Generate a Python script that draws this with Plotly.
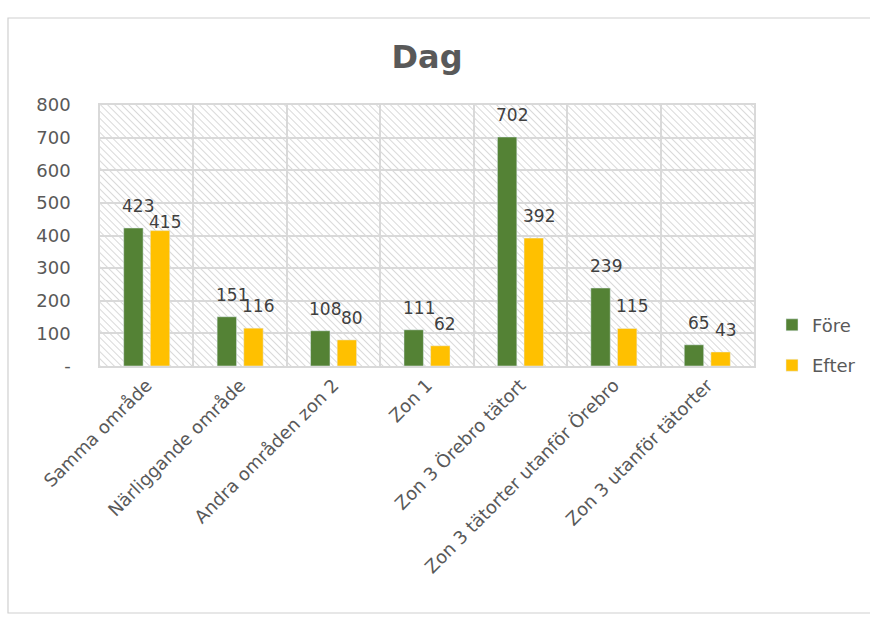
import base64
import plotly.graph_objects as go

# Trips per destination area, daytime, before and after the change
categories = [
    "Samma område",
    "Närliggande område",
    "Andra områden zon 2",
    "Zon 1",
    "Zon 3 Örebro tätort",
    "Zon 3 tätorter utanför Örebro",
    "Zon 3 utanför tätorter",
]
fore = [423, 151, 108, 111, 702, 239, 65]
efter = [415, 116, 80, 62, 392, 115, 43]

y_ticks = [0, 100, 200, 300, 400, 500, 600, 700, 800]
y_ticktext = ["-", "100", "200", "300", "400", "500", "600", "700", "800"]

GREEN = "#548235"
YELLOW = "#FFC000"
TEXT = "#595959"
LABEL = "#404040"
GRID = "#D9D9D9"
FONT = "Century Gothic, DejaVu Sans, sans-serif"

W, H = 870, 617
L, R, T, B = 100, 116, 105, 251
PW, PH = W - L - R, H - T - B
Y_MAX = 800

# diagonal hatch used as the plot-area background
svg = (
    f"<svg xmlns='http://www.w3.org/2000/svg' width='{PW}' height='{PH}'>"
    "<defs><pattern id='h' width='5' height='5' patternUnits='userSpaceOnUse' "
    "patternTransform='rotate(-45)'>"
    "<rect width='5' height='5' fill='#ffffff'/>"
    "<line x1='0' y1='0' x2='0' y2='5' stroke='#cdcdcd' stroke-width='1.5'/>"
    "</pattern></defs>"
    f"<rect width='{PW}' height='{PH}' fill='url(#h)'/></svg>"
)
hatch = "data:image/svg+xml;base64," + base64.b64encode(svg.encode()).decode()

fig = go.Figure()
fig.add_trace(go.Bar(name="Före", x=categories, y=fore, marker_color=GREEN,
                     legendgroup="a"))
fig.add_trace(go.Bar(name="Efter", x=categories, y=efter, marker_color=YELLOW,
                     legendgroup="b"))

# value labels above each bar; an "Efter" label that would sit on top of
# its "Före" neighbour is tucked closer to its own bar
bargap, bargroupgap = 0.43, 0.27
cat_px = PW / len(categories)
slot = cat_px * (1 - bargap) / 2
px_per_unit = PH / Y_MAX
annotations = []
for cat, f_val, e_val in zip(categories, fore, efter):
    close = abs(f_val - e_val) * px_per_unit < 6
    for val, shift, ys in ((f_val, -slot / 2, 22),
                           (e_val, slot / 2, 9 if close else 22)):
        annotations.append(dict(
            x=cat, y=val, xref="x", yref="y", text=str(val), showarrow=False,
            xshift=shift + 5, yshift=ys, yanchor="middle", xanchor="center",
            font=dict(family=FONT, size=17, color=LABEL),
        ))

fig.update_layout(
    width=W, height=H,
    margin=dict(l=L, r=R, t=T, b=B, autoexpand=False),
    paper_bgcolor="white",
    plot_bgcolor="rgba(0,0,0,0)",
    barmode="group", bargap=bargap, bargroupgap=bargroupgap,
    title=dict(text="<b>Dag</b>", x=0.5, xref="paper", xanchor="center",
               y=1 - 57 / H, yref="container", yanchor="middle",
               font=dict(family=FONT, size=32, color=TEXT)),
    font=dict(family=FONT, size=17, color=TEXT),
    legend=dict(x=(772 - L) / PW, y=0.08, xanchor="left", yanchor="middle",
                font=dict(family=FONT, size=18, color=TEXT),
                tracegroupgap=14, itemwidth=30, bgcolor="rgba(0,0,0,0)"),
    annotations=annotations,
    images=[dict(source=hatch, xref="paper", yref="paper", x=0, y=1,
                 sizex=1, sizey=1, sizing="stretch", xanchor="left",
                 yanchor="top", layer="below")],
    shapes=[dict(type="rect", xref="paper", yref="paper",
                 x0=(8 - L) / PW, x1=(W + 5 - L) / PW,
                 y0=-(613 - (T + PH)) / PH, y1=(T + PH - 18) / PH,
                 line=dict(color="#D0D0D0", width=1.2), layer="below")],
    showlegend=True,
)

fig.update_xaxes(
    tickangle=-45, tickson="boundaries", showgrid=True, gridcolor=GRID,
    gridwidth=1.5, showline=True, linecolor=GRID, linewidth=1.5, mirror=True,
    ticks="outside", ticklen=5, tickcolor="rgba(0,0,0,0)",
    tickfont=dict(family=FONT, size=18, color=TEXT),
)
fig.update_yaxes(
    range=[0, Y_MAX], tickvals=y_ticks, ticktext=y_ticktext,
    showgrid=True, gridcolor=GRID, gridwidth=1.5, zeroline=False,
    showline=True, linecolor=GRID, linewidth=1.5, mirror=True,
    ticks="outside", ticklen=24, tickcolor="rgba(0,0,0,0)",
    tickfont=dict(family=FONT, size=18, color=TEXT),
)

fig.write_html("out.html")
